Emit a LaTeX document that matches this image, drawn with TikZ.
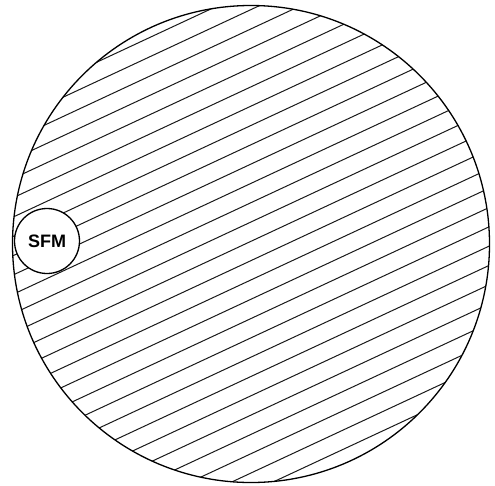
\documentclass[tikz,border=0pt]{standalone}
\usepackage{fontspec}
\setmainfont{Liberation Sans}
\begin{document}
\begin{tikzpicture}[x=1pt,y=-1pt,
  hatch/.style={line width=1pt,black!90},
  outline/.style={line width=1.3pt,black},
  small/.style={circle,draw,outline,fill=white,minimum size=65pt,inner sep=0pt,
    font=\bfseries\fontsize{18}{18}\selectfont}]
\useasboundingbox (0,0) rectangle (495,485);
\def\a{25}
\def\s{17.5}
\node[circle,minimum size=477pt,inner sep=0pt] (disk) at (251,244) {};
\begin{scope}
  \clip (251,244) circle (238.5);
  \foreach \k in {-18,...,18}{
    \draw[hatch] ({200+\k*\s*sin(\a)-400*cos(\a)},{323+\k*\s*cos(\a)+400*sin(\a)})
      -- ({200+\k*\s*sin(\a)+400*cos(\a)},{323+\k*\s*cos(\a)-400*sin(\a)});
  }
\end{scope}
\draw[outline] (251,244) circle (238.5);
\node[small] (sfm) at (47,241) {SFM};
\end{tikzpicture}
\end{document}
